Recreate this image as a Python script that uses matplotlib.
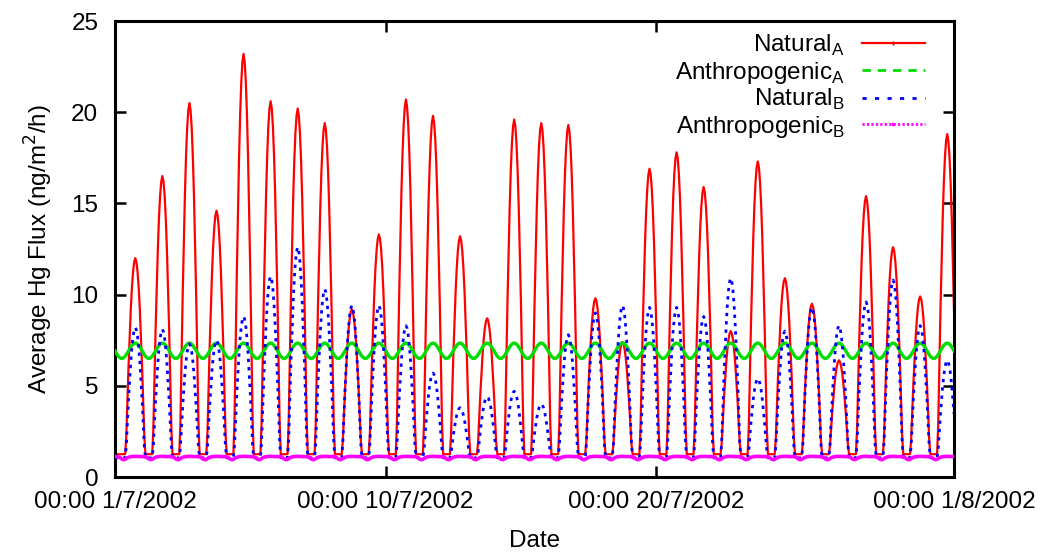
import numpy as np
import matplotlib
matplotlib.use("Agg")
import matplotlib.pyplot as plt
from matplotlib.lines import Line2D

plt.rcParams['font.family'] = ['Liberation Sans', 'DejaVu Sans']

# ---- data ----
day_index = list(range(31))
natural_a_peaks = [12.0, 16.5, 20.5, 14.6, 23.2, 20.6, 20.2, 19.4, 9.2, 13.3,
                   20.7, 19.8, 13.2, 8.7, 19.6, 19.4, 19.3, 9.8, 7.4, 16.9,
                   17.8, 15.9, 8.0, 17.3, 10.9, 9.5, 6.4, 15.4, 12.6, 9.9, 18.8]
natural_b_peaks = [8.2, 8.1, 7.3, 7.5, 8.8, 11.0, 12.6, 10.3, 9.4, 9.4,
                   8.3, 5.7, 3.8, 4.4, 4.7, 4.0, 7.8, 9.0, 9.4, 9.3,
                   9.3, 8.8, 10.9, 5.4, 8.0, 9.3, 8.3, 9.6, 10.8, 8.3, 6.4]
natural_a_night = 1.25
natural_b_night = 1.05
# hourly daytime shape (fraction of the day's peak above the night level), hours 10..26
diurnal_shape = [0.09, 0.27, 0.45, 0.60, 0.74, 0.85, 0.93, 0.98, 1.0,
                 0.98, 0.93, 0.85, 0.74, 0.60, 0.45, 0.27, 0.09]
shape_start_hour = 10
# hourly values over one day (hours 0..23)
anthro_a_cycle = [6.92, 6.81, 6.71, 6.62, 6.56, 6.51, 6.50, 6.51, 6.56, 6.62, 6.71, 6.81,
                  6.92, 7.03, 7.13, 7.22, 7.28, 7.33, 7.34, 7.33, 7.28, 7.22, 7.13, 7.03]
anthro_b_cycle = [1.12, 1.12, 1.11, 1.10, 1.08, 1.04, 0.99, 0.96, 0.95, 0.97, 1.01, 1.05,
                  1.08, 1.10, 1.11, 1.12, 1.13, 1.13, 1.13, 1.13, 1.13, 1.12, 1.12, 1.12]

x_tick_days = [0, 10, 20, 31]
x_tick_labels = ['00:00 1/7/2002', '00:00 10/7/2002', '00:00 20/7/2002', '00:00 1/8/2002']
y_ticks = [0, 5, 10, 15, 20, 25]

# ---- build hourly series ----
n_hours = 31 * 24 + 1
hours = np.arange(n_hours)
t = hours / 24.0
nat_a = np.full(n_hours, natural_a_night)
nat_b = np.full(n_hours, natural_b_night)
for d in day_index:
    for k, frac in enumerate(diurnal_shape):
        idx = d * 24 + shape_start_hour + k
        if idx < n_hours:
            nat_a[idx] = natural_a_night + (natural_a_peaks[d] - natural_a_night) * frac
            nat_b[idx] = natural_b_night + (natural_b_peaks[d] - natural_b_night) * frac
anth_a = np.array([anthro_a_cycle[h % 24] for h in hours])
anth_b = np.array([anthro_b_cycle[h % 24] for h in hours])

# ---- plot ----
fig = plt.figure(figsize=(10.4, 5.53), dpi=100)
ax = fig.add_axes([115/1040, 76/553, (954-115)/1040, (477-21)/553])

red = '#ff0000'
green = '#00dd00'
blue = '#0000ff'
magenta = '#ff00ff'
fs = 17.5

ax.plot(t, nat_a, color=red, lw=1.6, zorder=2)
ax.plot(t, anth_a, color=green, lw=2.4, zorder=3)
ax.plot(t, nat_b, color=blue, lw=2.0, ls=(0, (1.2, 1.8)), zorder=4)
ax.plot(t, anth_b, color=magenta, lw=2.6, zorder=5)

ax.set_xlim(0, 31)
ax.set_ylim(0, 25)
ax.set_xticks(x_tick_days)
ax.set_xticklabels(x_tick_labels)
ax.set_yticks(y_ticks)
ax.tick_params(direction='in', top=True, right=True, length=8, width=1.8,
               labelsize=fs)
ax.tick_params(axis='x', pad=10)
ax.tick_params(axis='y', pad=12)
for s in ax.spines.values():
    s.set_linewidth(2.2)

ax.set_xlabel('Date', fontsize=fs, labelpad=12)
ax.set_ylabel('Average Hg Flux (ng/m$^2$/h)', fontsize=fs, labelpad=12)

handles = [
    Line2D([], [], color=red, lw=1.6, marker='+', markersize=3),
    Line2D([], [], color=green, lw=2.0, ls=(0, (3, 2.5))),
    Line2D([], [], color=blue, lw=2.0, ls=(0, (1.5, 3))),
    Line2D([], [], color=magenta, lw=2.0, ls=(0, (0.8, 0.8)), marker='s', markersize=2),
]
labels = ['Natural$_\\mathregular{A}$', 'Anthropogenic$_\\mathregular{A}$',
          'Natural$_\\mathregular{B}$', 'Anthropogenic$_\\mathregular{B}$']
leg = ax.legend(handles, labels, loc='upper right', frameon=False, markerfirst=False,
                fontsize=fs, handlelength=2.6, labelspacing=0.06, numpoints=1,
                bbox_to_anchor=(925/1040, 1 - 33/553), bbox_transform=fig.transFigure,
                borderaxespad=0.0, borderpad=0.0, handletextpad=0.7)
for txt in leg.get_texts():
    txt.set_ha('right')

fig.savefig('out.png', dpi=100)
